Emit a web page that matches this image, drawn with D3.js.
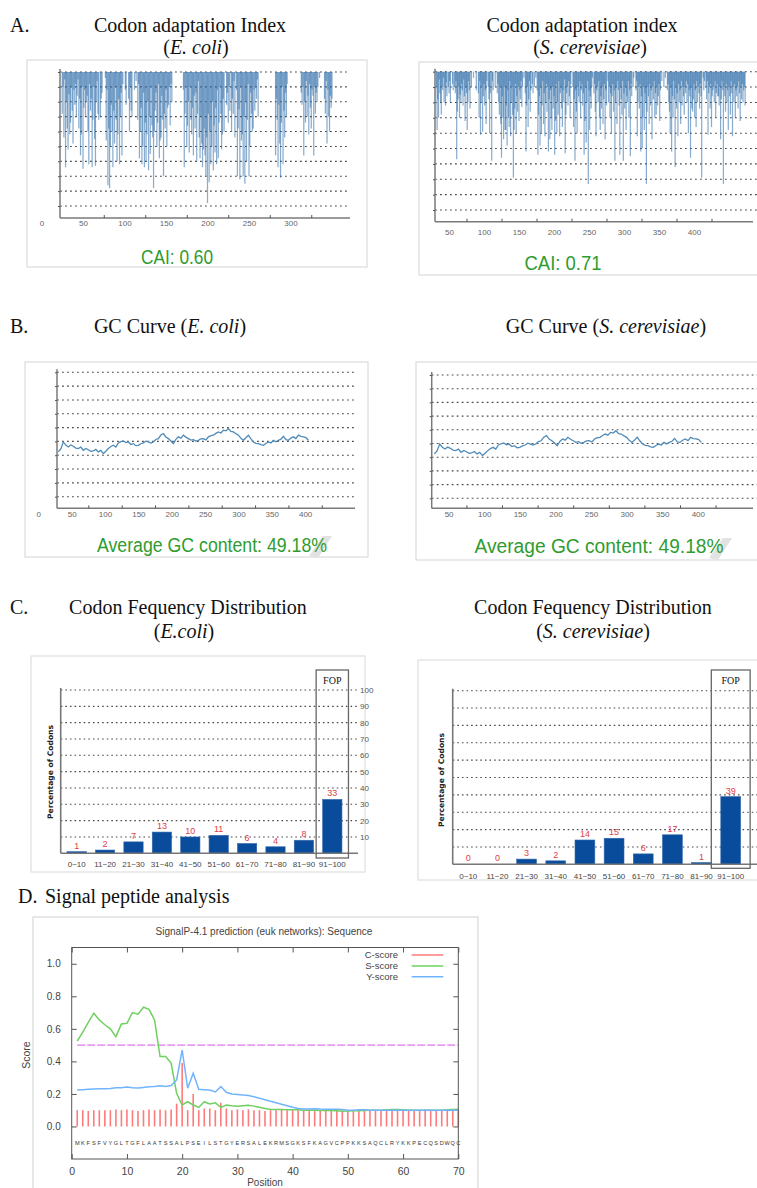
<!DOCTYPE html>
<html>
<head>
<meta charset="utf-8">
<script src="https://cdn.jsdelivr.net/npm/d3@7"></script>
<style>
  body { margin: 0; background: #fff; }
  svg { display: block; }
  .ttl { font-family: "Liberation Serif", "Times New Roman", serif; fill: #111; }
  .sm { font-family: "Liberation Sans", Arial, sans-serif; }
</style>
</head>
<body>
<svg id="fig" width="757" height="1188"></svg>
<script>
// ---- data ----
// relative adaptiveness per codon position (CAI plots)
const caiEcoliStart = 25;
const caiEcoli = [
  .72,.9,.56,.95,.36,.8,.62,.48,.85,.58, .66,.9,.74,.52,.88,.78,.92,.7,.84,.95,
  .62,.82,.44,.58,.9,.35,.76,.88,.7,.8, .84,.6,.38,.92,.74,.82,.36,.68,.9,.55,
  .37,.8,.94,.72,.68,1,.7,.82,.86,1, 1,1,.96,.54,.88,.24,.62,.22,.5,.78,
  .6,.36,.74,.52,.9,.68,.4,.58,.82,.38, .7,.86,.44,.92,1,1,.88,.78,1,1,
  .82,.6,.9,.74,.7,1,1,.88,1,.94, 1,.68,.92,.42,.6,.76,.38,.5,.86,.36,
  .66,.4,.58,.8,.34,.7,.45,.9,.64,.56, .22,.6,.74,.86,.5,.66,.92,.42,.54,.56,
  .84,.68,.3,.72,.62,.88,.5,.76,.78,.9, .64,.92,.8,1,1,1,1,1,1,1,
  1,1,1,1,1,1,.88,.36,.72,.9, .5,.64,.8,.46,.9,.68,.58,.76,.44,.84,
  .62,.86,.4,.72,.94,.56,.42,.7,.52,.36, .48,.62,.44,.3,.56,.12,.72,.26,.6,.38,
  .5,.8,.34,.64,.46,.76,.38,.88,.42,.66, .9,.72,.48,.58,.82,.6,1,1,.78,.86,
  .66,.9,.74,1,.6,.82,.72,.94,.56,1, .88,.3,.62,.75,.28,.9,.54,.58,.3,.7,
  .25,.8,.4,.68,.92,.3,.5,.86,.72,.6, .62,.88,.74,.9,.82,.95,.7,1,1,1,
  1,1,1,1,1,1,1,1,1,1, 1,1,1,1,1,1,1,.44,.82,.68,
  .36,.78,.52,.29,.66,.9,.38,.74,.56,.86, .7,.92,1,1,1,1,1,1,1,1,
  1,1,1,1,1,1,1,1,.86,.78, .9,.44,.8,.66,.94,.7,.84,.58,.92,.76,
  .62,.88,.84,.44,.9,.72,.86,.8,.9,1, .96,1,1,1,1,1,.82,.72,.94,.52,
  .88,.7,.6,.84,.76,.82
];
const caiYeastStart = 32;
const caiYeast = [
  .9,.62,.82,.7,.95,.86,.8,.72,.9,.88, .96,.8,.9,.78,.93,.84,1,.9,.86,.94,
  .8,1,1,.92,.88,1,.9,.86,.94,.43, .74,.82,.9,.7,.85,.8,.92,.88,.78,.95,
  .84,.68,.9,.86,.62,.8,.94,.88,.76,1, .9,1,1,.96,1,1,1,.88,1,1,
  .86,.7,.94,.59,.8,.9,.61,.84,.92,.78, .88,.66,.94,1,.9,.82,.6,.86,1,.42,
  .94,.88,1,1,.9,1,1,.86,.92,.8, .72,.9,.66,.44,.84,.7,.56,.9,.62,.62,
  .78,.52,.88,.7,.64,.94,.58,.8,.9,.72, .31,.62,.76,.92,.6,.84,.74,.9,.68,.88,
  .82,.94,.77,.9,1,.96,1,.86,.48,.78, .9,.64,.82,.94,.74,.88,1,.92,.86,1,
  .9,1,.96,1,.88,.46,.72,.84,.52,.9, .6,.78,.94,.66,.86,.58,.8,.92,.74,.9,
  .48,.82,.56,.88,.7,.62,.9,.76,.84,.46, .68,.92,.6,.8,.72,.94,.58,.86,.9,.76,
  .64,.88,.8,.95,.47,.72,.86,.9,.78,.94, .84,.7,.92,1,1,.9,.64,.82,.42,.88,
  .74,.6,.9,.84,.8,.94,.7,.88,.92,.78, .86,.46,.68,.9,.54,.8,.94,.27,.88,.62,
  .84,.76,.9,.96,1,.86,.92,.74,.58,.88, .9,.8,.94,.7,.62,.84,.76,.9,.66,.82,
  .92,.56,.88,.78,1,.94,.8,.9,.7,.86, .6,.84,.92,.74,.88,.42,.8,.9,.66,.94,
  .88,.78,.46,.9,.82,.72,.94,.42,.86,.76, .9,.62,.84,.8,.94,.7,.88,.45,.92,.84,
  1,.9,.96,1,1,.88,.94,.58,.8,.9, .76,.92,.48,.84,.5,.7,.9,.62,.86,.8,
  .27,.74,.9,.84,.66,.92,.78,.88,.56,.9, .82,.94,.7,.86,.72,.9,.78,.84,.92,.68,
  .88,1,.94,1,1,.9,1,.96,1,1, .88,.92,.8,.74,.6,.9,.48,.84,.7,.94,
  .82,.38,.9,.76,.86,.58,.92,.8,.88,.66, .94,.78,.9,.84,.72,.9,.86,.94,.8,.92,
  .6,.88,.84,.44,.9,.76,.74,.82,.92,.7, .88,.64,.94,.8,.9,.86,.76,.92,.84,.31,
  1,.96,.88,.94,1,.9,.82,.94,.59,.86, .9,.76,.92,.64,.84,.88,.9,.8,.94,.7,
  .86,.92,.84,.84,.78,.9,.56,.82,.94,.88, .27,.9,.84,.74,.92,.8,.88,.62,.9,.84,
  .72,.94,.86,.58,.9,.8,.92,.7,.88,.84, .9,.76,.94,.86,.68,.9,.82,.92,.8,.88,
  .9,.78
];
const caiLabels = [50, 100, 150, 200, 250, 300];
const caiLabelsYeast = [50, 100, 150, 200, 250, 300, 350, 400];

// GC content (%) along the sequence, every 3.75 positions from 30
const gcStart = 30, gcStep = 3.75;
const gcContent = [
  42.4,44.6,49.6,47.3,46,47.4,46.5,45.2,44.8,45.9, 43.6,44.9,44,42.8,43.1,44.2,42.4,43.5,41.2,42.9,
  44.8,46.3,47.2,45.9,48.9,49.8,50.4,49.1,49.6,47.8, 48.4,46.9,47.2,48.3,48.9,50.2,49.6,48.8,49.6,51.4,
  52,54.6,55.7,53.2,52,50.3,48.4,51.5,53.3,52.4, 54.5,53.1,52,50.9,51.3,50.2,50.8,51.9,52,51.1,
  53.3,54.2,54.5,55.8,56.9,56.1,58.1,57.6,59.3,57.2, 56.9,55.6,54.5,52.3,50.8,52.6,54.5,51.8,49.6,48.6,
  48.4,47.6,47.2,48.5,49.6,48.9,50.8,49.7,50.8,51.6, 53.7,51.2,50.8,52.4,53.3,52.1,54.5,53.6,53.3,52.8,
  50.8
];
const gcLabels = [50, 100, 150, 200, 250, 300, 350, 400];

// codon frequency distribution
const fopBins = ["0~10","11~20","21~30","31~40","41~50","51~60","61~70","71~80","81~90","91~100"];
const fopEcoli = [1, 2, 7, 13, 10, 11, 6, 4, 8, 33];
const fopYeast = [0, 0, 3, 2, 14, 15, 6, 17, 1, 39];
const pctTicks = [10, 20, 30, 40, 50, 60, 70, 80, 90, 100];

// SignalP scores, positions 1..70
const spSeq = "MKFSFVYGLTGFLAATSSALPSEILSTGYERSALEKRMSGKSFKAGVCPPKKSAQCLRYKKPECQSDWQC";
const cScore = [
  .1,.1,.095,.1,.1,.1,.1,.105,.1,.105, .1,.095,.1,.105,.1,.105,.1,.105,.14,.39,
  .1,.2,.1,.11,.11,.1,.145,.11,.1,.105, .1,.105,.1,.1,.095,.1,.1,.105,.1,.1,
  .1,.1,.105,.1,.1,.095,.1,.105,.1,.095, .1,.1,.1,.095,.1,.1,.1,.1,.105,.1,
  .1,.1,.1,.105,.1,.1,.095,.1,.1,.1
];
const sScore = [
  .525,.58,.64,.696,.655,.625,.6,.552,.63,.634, .7,.69,.733,.72,.655,.43,.43,.39,.204,.132,
  .152,.132,.117,.152,.138,.146,.117,.132,.128,.125, .128,.13,.125,.118,.11,.105,.105,.105,.103,.103,
  .102,.1,.1,.1,.098,.098,.098,.096,.094,.095, .096,.097,.098,.1,.1,.1,.102,.104,.104,.102,
  .1,.1,.1,.1,.1,.1,.1,.102,.104,.106
];
const yScore = [
  .224,.226,.228,.23,.232,.232,.234,.238,.238,.242, .238,.236,.24,.244,.246,.25,.246,.252,.286,.47,
  .235,.327,.228,.226,.224,.212,.245,.21,.2,.197, .193,.19,.183,.174,.164,.155,.146,.136,.127,.118,
  .11,.108,.108,.109,.107,.106,.106,.106,.105,.1, .1,.102,.102,.1,.1,.1,.1,.1,.1,.1,
  .1,.1,.1,.1,.1,.1,.1,.1,.1,.1
];
const spTicksX = [0, 10, 20, 30, 40, 50, 60, 70];
const spTicksY = [0, 0.2, 0.4, 0.6, 0.8, 1.0];
const spLegend = [["C-score", "#ff7a7a"], ["S-score", "#6fd060"], ["Y-score", "#70b4ff"]];

// ---- drawing ----
const svg = d3.select("#fig");
svg.append("rect").attr("width", 757).attr("height", 1188).attr("fill", "#fff");

const GREEN = "#2f9c2f";

function heading(x, y, parts, anchor) {
  const t = svg.append("text").attr("class", "ttl").attr("x", x).attr("y", y)
    .attr("text-anchor", anchor || "middle").style("font-size", "20px");
  parts.forEach(p => t.append("tspan").text(p[0]).attr("font-style", p[1] ? "italic" : null));
}

function greenText(txt, cx, y, len) {
  svg.append("text").attr("class", "sm").attr("x", cx).attr("y", y).attr("text-anchor", "middle")
    .attr("textLength", len).attr("lengthAdjust", "spacingAndGlyphs")
    .style("font-size", "20px").attr("fill", GREEN).text(txt);
}

function swoosh(x, y) {
  svg.append("path").attr("d", `M${x},${y}l14,-20l9,0l-14,22z`).attr("fill", "#e2e2e2");
}

function styleTicks(sel, size, color) {
  sel.select(".domain").remove();
  sel.selectAll("text").attr("class", "sm").style("font-size", size + "px").attr("fill", color);
  sel.selectAll("line").attr("stroke", "#555");
}

// profile panel (CAI bars or GC curve)
function profilePanel(o) {
  const g = svg.append("g");
  g.append("rect").attr("x", o.box[0]).attr("y", o.box[1]).attr("width", o.box[2]).attr("height", o.box[3])
    .attr("fill", "#fff").attr("stroke", "#d4d4d4");
  const x = d3.scaleLinear().domain([0, 100]).range([o.x0, o.x0 + 100 * o.k]);
  const y = d3.scaleLinear().domain(o.yDomain).range(o.yRange);
  const step = (o.yDomain[1] - o.yDomain[0]) / 10;
  const grid = d3.range(1, 11).map(i => o.yDomain[0] + i * step);

  g.append("g").selectAll("line").data(grid).join("line")
    .attr("x1", o.axisX).attr("x2", o.gridEnd)
    .attr("y1", d => y(d)).attr("y2", d => y(d))
    .attr("stroke", "#4a4a4a").attr("stroke-width", 1.1).attr("stroke-dasharray", "1.8,3.2");

  if (o.bars) {
    g.append("g").selectAll("line").data(o.values).join("line")
      .attr("x1", (d, i) => x(o.start + i)).attr("x2", (d, i) => x(o.start + i))
      .attr("y1", y(1)).attr("y2", d => y(d))
      .attr("stroke", "#2a6aa8").attr("stroke-opacity", 0.55).attr("stroke-width", 1.25);
  } else {
    const line = d3.line().x((d, i) => x(o.start + i * o.step)).y(d => y(d));
    g.append("path").datum(o.values).attr("d", line)
      .attr("fill", "none").attr("stroke", "#4f8bb8").attr("stroke-width", 1.3);
  }

  // axes
  g.append("line").attr("x1", o.axisX).attr("x2", o.axisX).attr("y1", y(grid[9]) - 3).attr("y2", o.baseY)
    .attr("stroke", "#7a7a7a").attr("stroke-width", 1.5);
  g.append("line").attr("x1", o.axisX).attr("x2", o.axisEnd).attr("y1", o.baseY).attr("y2", o.baseY)
    .attr("stroke", "#7a7a7a").attr("stroke-width", 1.5);
  g.append("g").attr("transform", `translate(${o.axisX},0)`)
    .call(d3.axisLeft(y).tickValues(grid).tickSize(2).tickFormat(""))
    .call(s => styleTicks(s, 8, "#666"));
  g.append("g").attr("transform", `translate(0,${o.baseY})`)
    .call(d3.axisBottom(x).tickValues(o.labels.map(v => v + 25).filter(v => x(v) < o.axisEnd - 20))
      .tickSizeInner(-3).tickSizeOuter(0).tickFormat(""))
    .call(s => styleTicks(s, 8, "#666"));
  const lab = o.zero ? [0].concat(o.labels) : o.labels;
  g.append("g").attr("transform", `translate(0,${o.baseY})`)
    .call(d3.axisBottom(x).tickValues(lab).tickSize(0).tickPadding(o.pad))
    .call(s => styleTicks(s, 8, "#666"));
}

// codon frequency panel
function codonPanel(o) {
  const g = svg.append("g");
  g.append("rect").attr("x", o.box[0]).attr("y", o.box[1]).attr("width", o.box[2]).attr("height", o.box[3])
    .attr("fill", "#fff").attr("stroke", "#d8d8d8");
  const x = d3.scaleBand().domain(fopBins).range(o.xr).paddingInner(0.32).paddingOuter(0.16);
  const y = d3.scaleLinear().domain([0, 100]).range(o.yr);

  g.append("g").selectAll("line").data(pctTicks).join("line")
    .attr("x1", o.axisX).attr("x2", o.gridEnd).attr("y1", d => y(d)).attr("y2", d => y(d))
    .attr("stroke", "#4a4a4a").attr("stroke-width", 1.1).attr("stroke-dasharray", "1.6,3");

  g.append("g").selectAll("rect").data(o.values).join("rect")
    .attr("x", (d, i) => x(fopBins[i])).attr("width", x.bandwidth())
    .attr("y", d => y(d)).attr("height", d => y(0) - y(d))
    .attr("fill", "#0a4c9c").attr("stroke", "#3568ad").attr("stroke-width", 0.6);

  g.append("g").selectAll("text").data(o.values).join("text")
    .attr("class", "sm").attr("x", (d, i) => x(fopBins[i]) + x.bandwidth() / 2).attr("y", d => y(d) - 3)
    .attr("text-anchor", "middle").style("font-size", "9px").attr("fill", "#e0404a").text(d => d);

  g.append("line").attr("x1", o.axisX).attr("x2", o.axisX).attr("y1", y(100) - 2).attr("y2", y(0))
    .attr("stroke", "#777").attr("stroke-width", 1.6);
  g.append("line").attr("x1", o.axisX).attr("x2", o.gridEnd).attr("y1", y(0)).attr("y2", y(0))
    .attr("stroke", "#777").attr("stroke-width", 1.6);

  g.append("g").attr("transform", `translate(0,${y(0)})`)
    .call(d3.axisBottom(x).tickSize(0).tickPadding(o.pad))
    .call(s => styleTicks(s, 8, "#444"));

  if (o.rightLabels) {
    g.append("g").attr("transform", `translate(${o.gridEnd + 2},0)`)
      .call(d3.axisRight(y).tickValues(pctTicks).tickSize(0).tickPadding(0))
      .call(s => styleTicks(s, 8, "#555"));
  }

  g.append("text").attr("transform", `translate(${o.ylab[0]},${o.ylab[1]}) rotate(-90)`)
    .attr("text-anchor", "middle").style("font-family", "'DejaVu Sans', Verdana, sans-serif")
    .style("font-size", "7.6px").style("font-weight", "bold").attr("fill", "#222")
    .text("Percentage of Codons");

  // FOP frame around last bin
  const last = fopBins[fopBins.length - 1];
  const fx0 = x(last) - o.fopPad, fx1 = x(last) + x.bandwidth() + o.fopPad;
  g.append("rect").attr("x", fx0).attr("y", o.fopY[0]).attr("width", fx1 - fx0).attr("height", o.fopY[1] - o.fopY[0])
    .attr("fill", "none").attr("stroke", "#666").attr("stroke-width", 1.3);
  g.append("text").attr("class", "ttl").attr("x", (fx0 + fx1) / 2).attr("y", o.fopY[0] + 14)
    .attr("text-anchor", "middle").style("font-size", "10px").attr("fill", "#333").text("FOP");
}

// ---- panel A ----
heading(10, 32, [["A.", false]], "start");
heading(190, 32, [["Codon adaptation Index", false]]);
heading(196, 54, [["(", false], ["E. coli", true], [")", false]]);
heading(582, 32, [["Codon adaptation index", false]]);
heading(590, 54, [["(", false], ["S. cerevisiae", true], [")", false]]);

profilePanel({
  box: [27, 60, 340, 207], x0: 41.5, k: 0.83, yDomain: [0, 1], yRange: [220.9, 72],
  axisX: 60, axisEnd: 350, gridEnd: 350, baseY: 218, labels: caiLabels, zero: true, pad: 2,
  bars: true, start: caiEcoliStart, values: caiEcoli
});
greenText("CAI: 0.60", 177, 264, 72);

profilePanel({
  box: [419, 62, 345, 213], x0: 414, k: 0.70, yDomain: [0, 1], yRange: [225.4, 71.7],
  axisX: 435, axisEnd: 753, gridEnd: 757, baseY: 221.7, labels: caiLabelsYeast, zero: false, pad: 8,
  bars: true, start: caiYeastStart, values: caiYeast
});
greenText("CAI: 0.71", 563, 270, 77);

// ---- panel B ----
heading(10, 333, [["B.", false]], "start");
heading(170, 333, [["GC Curve (", false], ["E. coli", true], [")", false]]);
heading(606, 333, [["GC Curve (", false], ["S. cerevisiae", true], [")", false]]);

profilePanel({
  box: [25, 362, 343, 195], x0: 38.3, k: 0.667, yDomain: [0, 100], yRange: [510.5, 372.3],
  axisX: 57, axisEnd: 355, gridEnd: 355, baseY: 508.3, labels: gcLabels, zero: true, pad: 3.5,
  bars: false, start: gcStart, step: gcStep, values: gcContent
});
swoosh(309, 556);
greenText("Average GC content: 49.18%", 212, 552, 230);

profilePanel({
  box: [416, 362, 345, 198], x0: 413, k: 0.712, yDomain: [0, 100], yRange: [512, 375],
  axisX: 431.7, axisEnd: 753, gridEnd: 757, baseY: 508.3, labels: gcLabels, zero: false, pad: 3.5,
  bars: false, start: gcStart, step: gcStep, values: gcContent
});
swoosh(709, 558);
greenText("Average GC content: 49.18%", 599, 553, 249);

// ---- panel C ----
heading(10, 614, [["C.", false]], "start");
heading(188, 614, [["Codon Fequency Distribution", false]]);
heading(184, 638, [["(", false], ["E.coli", true], [")", false]]);
heading(593, 614, [["Codon Fequency Distribution", false]]);
heading(593, 638, [["(", false], ["S. cerevisiae", true], [")", false]]);

codonPanel({
  box: [31, 656, 334, 216], xr: [62.5, 346.5], yr: [853.3, 690], axisX: 60.7, gridEnd: 358,
  values: fopEcoli, pad: 8, rightLabels: true, ylab: [53, 772], fopPad: 6.5, fopY: [670, 858]
});
codonPanel({
  box: [418, 660, 345, 220], xr: [453.7, 745.3], yr: [864.3, 690.7], axisX: 452.7, gridEnd: 757,
  values: fopYeast, pad: 9, rightLabels: false, ylab: [443.5, 780], fopPad: 9.5, fopY: [670, 868.3]
});

// ---- panel D ----
heading(18, 903, [["D.", false]], "start");
heading(45, 903, [["Signal peptide analysis", false]], "start");

const gD = svg.append("g");
gD.append("rect").attr("x", 33).attr("y", 917).attr("width", 445).attr("height", 290)
  .attr("fill", "#fff").attr("stroke", "#cfcfcf");
const xD = d3.scaleLinear().domain([0, 70]).range([71.7, 458.3]);
const yD = d3.scaleLinear().domain([-0.2, 1.1]).range([1159, 947.5]);

gD.append("text").attr("class", "sm").attr("x", 264).attr("y", 934.5).attr("text-anchor", "middle")
  .style("font-size", "10px").attr("fill", "#444").text("SignalP-4.1 prediction (euk networks): Sequence");

// C-score impulses
gD.append("g").selectAll("line").data(cScore).join("line")
  .attr("x1", (d, i) => xD(i + 1)).attr("x2", (d, i) => xD(i + 1))
  .attr("y1", yD(0)).attr("y2", d => yD(d))
  .attr("stroke", "#ff7a7a").attr("stroke-width", 1.6);

// threshold
gD.append("line").attr("x1", xD(1)).attr("x2", xD(70)).attr("y1", yD(0.5)).attr("y2", yD(0.5))
  .attr("stroke", "#dd77ee").attr("stroke-width", 1.2).attr("stroke-dasharray", "8,2");

const lineD = d3.line().x((d, i) => xD(i + 1)).y(d => yD(d));
gD.append("path").datum(sScore).attr("d", lineD).attr("fill", "none").attr("stroke", "#6fd060").attr("stroke-width", 1.5);
gD.append("path").datum(yScore).attr("d", lineD).attr("fill", "none").attr("stroke", "#70b4ff").attr("stroke-width", 1.5);

// sequence letters
gD.append("g").selectAll("text").data(spSeq.split("")).join("text")
  .attr("class", "sm").attr("x", (d, i) => xD(i + 1)).attr("y", yD(-0.1) + 2)
  .attr("text-anchor", "middle").style("font-size", "5.6px").attr("fill", "#333").text(d => d);

// frame + ticks
gD.append("rect").attr("x", xD(0)).attr("y", yD(1.1)).attr("width", xD(70) - xD(0)).attr("height", yD(-0.2) - yD(1.1))
  .attr("fill", "none").attr("stroke", "#555").attr("stroke-width", 1);
gD.append("g").attr("transform", `translate(0,${yD(-0.2)})`)
  .call(d3.axisBottom(xD).tickValues(spTicksX).tickSizeInner(-5).tickSizeOuter(0).tickPadding(9).tickFormat(d3.format("d")))
  .call(s => styleTicks(s, 10.5, "#444"));
gD.append("g").attr("transform", `translate(0,${yD(1.1)})`)
  .call(d3.axisTop(xD).tickValues(spTicksX).tickSizeInner(-5).tickSizeOuter(0).tickFormat(""))
  .call(s => styleTicks(s, 10, "#444"));
gD.append("g").attr("transform", `translate(${xD(0)},0)`)
  .call(d3.axisLeft(yD).tickValues(spTicksY).tickSizeInner(-5).tickSizeOuter(0).tickPadding(11).tickFormat(d3.format(".1f")))
  .call(s => styleTicks(s, 10, "#444"));
gD.append("g").attr("transform", `translate(${xD(70)},0)`)
  .call(d3.axisRight(yD).tickValues(spTicksY).tickSizeInner(-5).tickSizeOuter(0).tickFormat(""))
  .call(s => styleTicks(s, 10, "#444"));

gD.append("text").attr("class", "sm").attr("transform", "translate(30,1055) rotate(-90)")
  .attr("text-anchor", "middle").style("font-size", "10.5px").attr("fill", "#444").text("Score");
gD.append("text").attr("class", "sm").attr("x", 265).attr("y", 1186)
  .attr("text-anchor", "middle").style("font-size", "10px").attr("fill", "#444").text("Position");

// legend
const leg = gD.append("g").selectAll("g").data(spLegend).join("g")
  .attr("transform", (d, i) => `translate(0,${955 + i * 10.9})`);
leg.append("text").attr("class", "sm").attr("x", 398).attr("y", 3.3).attr("text-anchor", "end")
  .style("font-size", "9.5px").attr("fill", "#444").text(d => d[0]);
leg.append("line").attr("x1", 411.7).attr("x2", 443.3).attr("stroke", d => d[1]).attr("stroke-width", 1.5);
</script>
</body>
</html>
